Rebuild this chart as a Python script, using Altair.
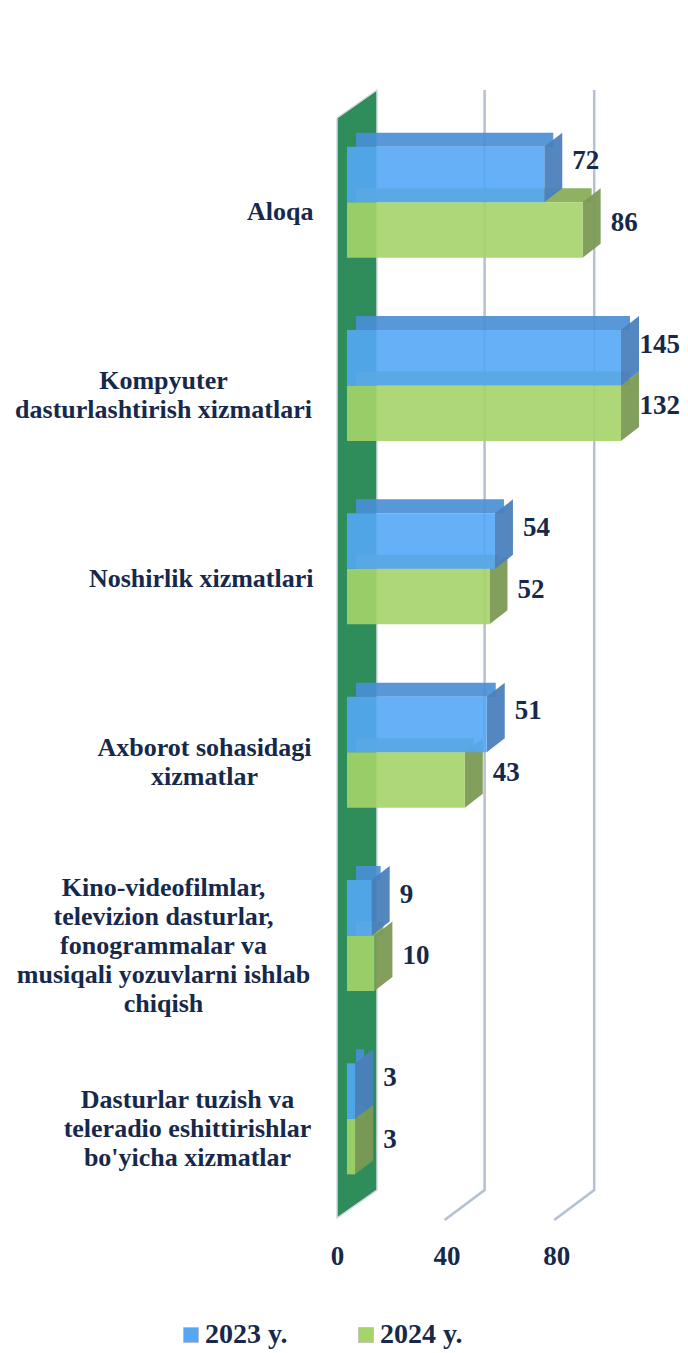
import json
import altair as alt
import pandas as pd

# ---- data ----
categories = [
    "Aloqa",
    "Kompyuter|dasturlashtirish xizmatlari",
    "Noshirlik xizmatlari",
    "Axborot sohasidagi|xizmatlar",
    "Kino-videofilmlar,|televizion dasturlar,|fonogrammalar va|musiqali yozuvlarni ishlab|chiqish",
    "Dasturlar tuzish  va|teleradio eshittirishlar|bo'yicha xizmatlar",
]
series = ["2023 y.", "2024 y."]
values_2023 = [72, 145, 54, 51, 9, 3]
values_2024 = [86, 132, 52, 43, 10, 3]
tick_values = [0, 40, 80]
grid_values = [40, 80]

rows = []
for i, (c, a, b) in enumerate(zip(categories, values_2023, values_2024)):
    rows.append({"cat": c, "ci": i, "series": series[0], "si": 0, "value": a})
    rows.append({"cat": c, "ci": i, "series": series[1], "si": 1, "value": b})
df = pd.DataFrame(rows)
df_zero = pd.DataFrame({"v": [0]})
df_grid = pd.DataFrame({"v": grid_values})

# ---- style ----
FONT = "Liberation Serif"
TXT = "#17294b"
W, H = 274, 1100
STEP = H / len(categories)
LINE_H = 29
front = {"2023 y.": "#54a7f5", "2024 y.": "#a5d469"}
top = {"2023 y.": "#4a8fd6", "2024 y.": "#84ab55"}
side = {"2023 y.": "#4b7fbd", "2024 y.": "#7b9a55"}
WALL_PATH = "M-20,-536L20,-564L20,536L-20,564Z"
SIDE_PATH = "M0,-27.75L18,-41.75L18,13.75L0,27.75Z"
GRID_PATH = "M28,-1120L28,-20L-12,10"
BAR_T = 0.3028   # bar thickness in category units
OUT = 0.2        # outer gap in category units

# label blocks are right-aligned at the same edge, lines centred inside each block
label_style = [("right", 34), ("center", 184), ("right", 34),
               ("center", 143), ("center", 184), ("center", 160)]

xs = alt.Scale(domain=[0, 100], nice=False, zero=True)
ys = alt.Scale(domain=[0, len(categories)], reverse=True, nice=False, zero=False)

label_pos = [
    i + 0.5 - (c.count("|") * LINE_H / 2) / STEP for i, c in enumerate(categories)
]

XA = alt.Axis(
    title=None, domain=False, ticks=False, grid=False, values=tick_values,
    labelFont=FONT, labelFontSize=27, labelFontWeight="bold", labelColor=TXT,
    labelPadding=33, labelOffset=-10, labelFlush=False,
)

groups = {}
for i, st in enumerate(label_style):
    groups.setdefault(st, []).append(label_pos[i])

y_axes = []
for (align, pad), vals in groups.items():
    y_axes.append(alt.Axis(
        title=None, domain=False, ticks=False, grid=False, orient="left",
        values=vals,
        labelExpr="split(" + json.dumps(categories) + "[floor(datum.value)], '|')",
        labelAlign=align, labelBaseline="middle", labelPadding=pad, labelOffset=10,
        labelFont=FONT, labelFontSize=26, labelFontWeight="bold",
        labelColor=TXT, labelLineHeight=LINE_H, labelLimit=400, labelFlush=False,
    ))
axis_iter = iter(y_axes)

def X(f):
    return alt.X(f, scale=xs, axis=XA)

def Yq(f):
    ax = next(axis_iter, None)
    if ax is None:
        return alt.Y(f, scale=ys, axis=None)
    return alt.Y(f, scale=ys, axis=ax)

base = alt.Chart(df).transform_calculate(
    zero="0",
    vc="min(datum.value, 100)",
    lx="min(datum.value, 96.5)",
    yt=f"datum.ci + {OUT} + datum.si * {BAR_T}",
).transform_calculate(
    yb=f"datum.yt + {BAR_T}",
    ym=f"datum.yt + {BAR_T / 2}",
)

wall = alt.Chart(df_zero).mark_point(
    shape=WALL_PATH, size=4, filled=True, fill="#2f8d5b", opacity=1,
    stroke="#d3dbe3", strokeWidth=1.5, xOffset=10,
).encode(x=X("v:Q"), y=alt.value(544))

grid = alt.Chart(df_grid).mark_point(
    shape=GRID_PATH, size=4, filled=False, stroke="#b5c1d1", strokeWidth=2.5, opacity=1,
).encode(x=X("v:Q"), y=alt.value(H))

border = alt.Chart(df_zero).mark_rule(color="#4f81bd", strokeWidth=3).encode(
    x=alt.value(340), y=alt.value(-100), y2=alt.value(1243)
)

layers = [grid, wall, border]
for s in ["2024 y.", "2023 y."]:
    b = base.transform_filter(alt.datum.series == s)
    topface = b.mark_rect(
        xOffset=9, x2Offset=9, yOffset=-14, y2Offset=0,
        color=top[s], opacity=0.92,
    ).encode(x=X("zero:Q"), x2="vc:Q", y=Yq("yt:Q"), y2="yt:Q")
    sideface = b.mark_point(
        shape=SIDE_PATH, size=4, filled=True, color=side[s], opacity=0.95,
    ).encode(x=X("vc:Q"), y=Yq("ym:Q"))
    frontface = b.mark_rect(opacity=0.9).encode(
        x=X("zero:Q"), x2="vc:Q", y=Yq("yt:Q"), y2="yb:Q",
        color=alt.Color(
            "series:N",
            scale=alt.Scale(domain=series, range=[front[series[0]], front[series[1]]]),
            legend=alt.Legend(
                title=None, orient="none", legendX=-170, legendY=1211,
                direction="horizontal", symbolType="square", symbolSize=225,
                symbolStrokeColor="#b0b0b0", symbolStrokeWidth=0.6, symbolOpacity=1,
                labelFont=FONT, labelFontSize=28, labelFontWeight="bold",
                labelColor=TXT, columnPadding=64, labelOffset=0,
            ),
        ),
    )
    layers += [topface, sideface, frontface]

for s, dy in [("2023 y.", -13), ("2024 y.", -7)]:
    t = base.transform_filter(alt.datum.series == s).mark_text(
        align="left", baseline="middle", dx=28, dy=dy,
        font=FONT, fontSize=27, fontWeight="bold", color=TXT,
    ).encode(x=X("lx:Q"), y=Yq("ym:Q"), text="value:Q")
    layers.append(t)

chart = alt.layer(*layers).resolve_axis(y="independent").properties(
    width=W, height=H,
    autosize=alt.AutoSizeParams(type="none"),
    padding={"left": 339, "top": 102, "right": 59, "bottom": 143},
).configure_view(stroke=None)

chart.save("out.html", embed_options={"renderer": "svg", "actions": False})
